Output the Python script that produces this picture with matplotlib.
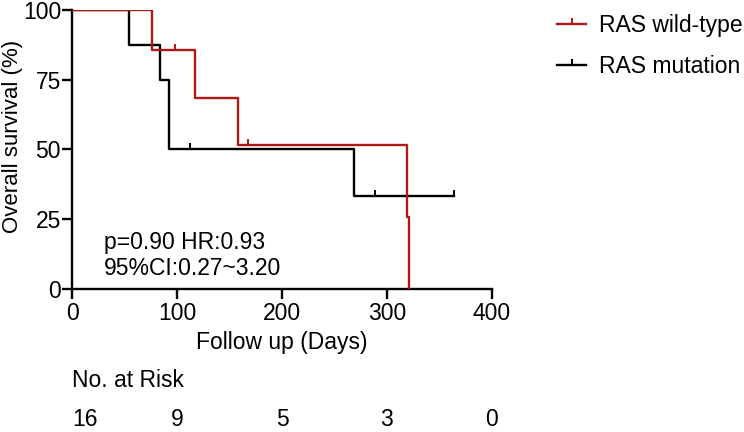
import matplotlib
matplotlib.use("Agg")
import matplotlib.pyplot as plt
import numpy as np
from matplotlib.path import Path
from matplotlib.lines import Line2D

plt.rcParams['font.family'] = ['Liberation Sans', 'DejaVu Sans']

# survival data (1 = death, 0 = censored)
wt_times = [42, 76, 98, 117, 158, 168, 319, 321]
wt_events = [0, 1, 0, 1, 1, 0, 1, 1]
mut_times = [54, 84, 92, 92, 112, 269, 289, 364]
mut_events = [1, 1, 1, 1, 0, 1, 0, 0]

risk_days = [0, 100, 200, 300, 400]
risk_counts = [16, 9, 5, 3, 0]

red = '#B01818'
black = '#000000'
tick_up = Path([(0, 0), (0, 1)])
fs = 16.5


def km(times, events):
    times = np.array(times)
    events = np.array(events)
    xs, ys = [0], [100.0]
    cens_x, cens_y = [], []
    s = 100.0
    n = len(times)
    for t in np.unique(times):
        d = events[(times == t)].sum()
        c = ((times == t) & (events == 0)).sum()
        if d > 0:
            s = s * (1 - d / n)
        xs.append(t)
        ys.append(s)
        if c > 0:
            cens_x.append(t)
            cens_y.append(s)
        n -= (times == t).sum()
    return xs, ys, cens_x, cens_y


fig = plt.figure(figsize=(7.44, 4.32), dpi=100)
ax = fig.add_axes([0.097, 0.331, 0.564, 0.646])

for times, events, col, z in [(mut_times, mut_events, black, 2), (wt_times, wt_events, red, 3)]:
    xs, ys, cx, cy = km(times, events)
    ax.step(xs, ys, where='post', color=col, lw=1.7, zorder=z)
    ax.plot(cx, cy, ls='none', marker=tick_up, markersize=9, mew=1.4, color=col, zorder=z)

ax.set_xlim(0, 400)
ax.set_ylim(0, 100)
ax.set_xticks([0, 100, 200, 300, 400])
ax.set_yticks([0, 25, 50, 75, 100])
for s in ['top', 'right']:
    ax.spines[s].set_visible(False)
for s in ['left', 'bottom']:
    ax.spines[s].set_linewidth(1.7)
ax.tick_params(width=1.7, length=7, labelsize=fs, pad=1)
ax.tick_params(axis='x', pad=2)
ax.set_xlabel('Follow up (Days)', fontsize=fs, labelpad=5)
ax.set_ylabel('Overall survival (%)', fontsize=16)
ax.yaxis.set_label_coords(-0.117, 0.545)

ax.text(30, 12, 'p=0.90 HR:0.93\n95%CI:0.27~3.20', fontsize=fs, va='center', linespacing=1.15)

handles = [Line2D([], [], color=red, lw=1.7, marker=tick_up, markersize=8, mew=1.4),
           Line2D([], [], color=black, lw=1.7, marker=tick_up, markersize=8, mew=1.4)]
fig.legend(handles, ['RAS wild-type', 'RAS mutation'], loc='upper left',
           bbox_to_anchor=(0.749, 0.968), frameon=False, fontsize=fs,
           borderpad=0, borderaxespad=0,
           handlelength=1.25, labelspacing=0.8, handletextpad=0.55)

# numbers at risk under the axis
fig.text(0.097, 0.12, 'No. at Risk', fontsize=fs, va='center')
for d, n in zip(risk_days, risk_counts):
    xf = fig.transFigure.inverted().transform(ax.transData.transform((d, 0)))[0]
    fig.text(xf, 0.013, str(n), fontsize=fs, ha='left' if d == 0 else 'center', va='baseline')

fig.savefig('out.png', dpi=100)
